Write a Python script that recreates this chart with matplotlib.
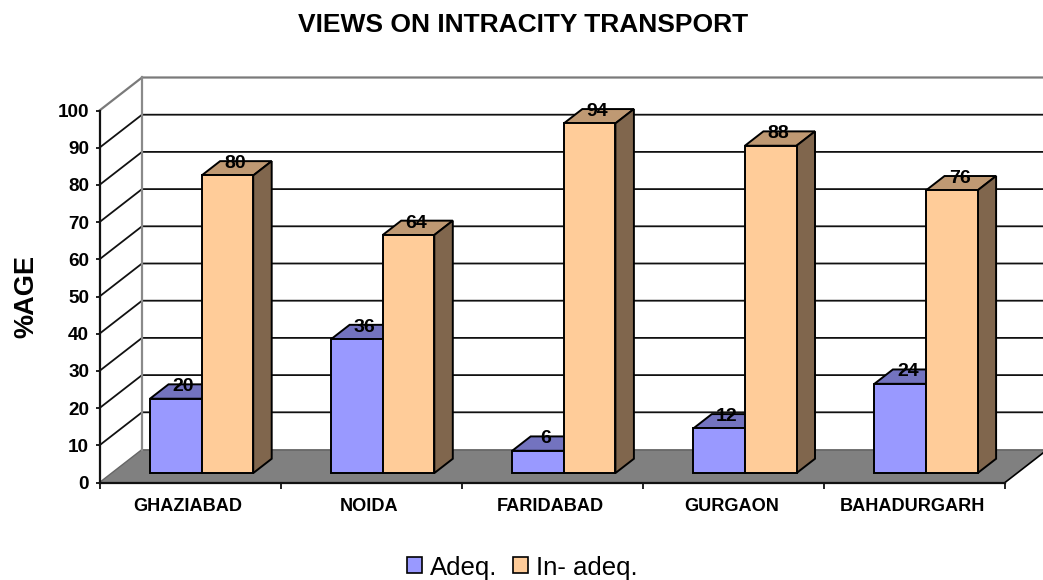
import matplotlib
matplotlib.use("Agg")
import matplotlib.pyplot as plt
from matplotlib.patches import Polygon, Patch

plt.rcParams['font.family'] = ['Liberation Sans', 'DejaVu Sans']

categories = ["GHAZIABAD", "NOIDA", "FARIDABAD", "GURGAON", "BAHADURGARH"]
adeq = [20, 36, 6, 12, 24]
inadeq = [80, 64, 94, 88, 76]
y_ticks = list(range(0, 101, 10))
series_names = ["Adeq.", "In- adeq."]

W, H = 1043, 580
fig = plt.figure(figsize=(W / 100, H / 100), dpi=100, facecolor='white')
L, R, Y0, Y100 = 99.5, 1005.0, 482.5, 110.5
ax = fig.add_axes([L / W, 1 - Y0 / H, (R - L) / W, (Y0 - Y100) / H])
ax.set_xlim(0, 5)
ax.set_ylim(0, 100)
ax.patch.set_visible(False)

PX = (R - L) / 5
PY = (Y0 - Y100) / 100
DX = 42.5 / PX   # full chart depth in category units
DY = 33.0 / PY   # full chart depth in value units

# projection helper: a point at depth d (0 = front, 1 = back)
def pj(x, y, d):
    return (x + DX * d, y + DY * d)

GREY = '#808080'
# floor
ax.add_patch(Polygon([pj(0, 0, 0), pj(5, 0, 0), pj(5, 0, 1), pj(0, 0, 1)],
                     closed=True, facecolor=GREY, edgecolor='none', zorder=1, clip_on=False))
ax.plot(*zip(pj(0, 0, 0), pj(0, 0, 1)), color='#666666', lw=1, zorder=1.2, clip_on=False)
ax.plot(*zip(pj(5, 0, 0), pj(5, 0, 1)), color='black', lw=1.2, zorder=1.2, clip_on=False)
ax.plot(*zip(pj(0, 0, 1), pj(5, 0, 1)), color='#666666', lw=1.2, zorder=1.2, clip_on=False)

# gridlines on back wall and left wall
for v in y_ticks[1:-1]:
    ax.plot(*zip(pj(0, v, 0), pj(0, v, 1), pj(5, v, 1)), color='#111111', lw=1.3,
            zorder=1.5, clip_on=False, solid_joinstyle='miter')
ax.plot(*zip(pj(0, 100, 0), pj(0, 100, 1), pj(5, 100, 1)), color='#7a7a7a', lw=1.6,
        zorder=1.5, clip_on=False, solid_joinstyle='miter')
ax.plot(*zip(pj(0, 0, 1), pj(0, 100, 1)), color='#8a8a8a', lw=1.6, zorder=1.6, clip_on=False)

BW = 51.6 / PX
XOFF = 38.4 / PX
D0, D1 = 0.285, 0.72
EDGE = dict(edgecolor='black', linewidth=1.4, joinstyle='miter')
styles = [('#9999FF', '#7373BF', '#4D4D80'), ('#FFCC99', '#BF9973', '#80664D')]

for k, vals in enumerate([adeq, inadeq]):
    front, top, side = styles[k]
    for i, v in enumerate(vals):
        x0 = i + XOFF + BW * k + DX * D0
        x1 = x0 + BW
        base = DY * D0
        z = 3 + k + i * 0.01
        ax.bar(x0, v, width=BW, bottom=base, align='edge', color=front, zorder=z + 0.002,
               clip_on=False, **EDGE)
        dd = D1 - D0
        tl = (x0, base + v)
        tr = (x1, base + v)
        ax.add_patch(Polygon([tl, tr, (x1 + DX * dd, base + v + DY * dd), (x0 + DX * dd, base + v + DY * dd)],
                             closed=True, facecolor=top, zorder=z, clip_on=False, **EDGE))
        ax.add_patch(Polygon([(x1, base), tr, (x1 + DX * dd, base + v + DY * dd), (x1 + DX * dd, base + DY * dd)],
                             closed=True, facecolor=side, zorder=z, clip_on=False, **EDGE))
        ax.text((x0 + x1) / 2 + DX * dd / 2 - 1.5 / PX, base + v + DY * dd - 2.5 / PY, str(v), ha='center', va='center',
                fontsize=14, fontweight='bold', color='black', zorder=10, clip_on=False)

# axes
for s in ['top', 'right']:
    ax.spines[s].set_visible(False)
for s in ['left', 'bottom']:
    ax.spines[s].set_linewidth(1.6)
    ax.spines[s].set_color('#111111')
    ax.spines[s].set_zorder(2)
ax.set_yticks(y_ticks)
ax.set_yticklabels([str(v) for v in y_ticks], fontsize=13.6, fontweight='bold')
ax.tick_params(axis='y', length=3.2, width=1.3, pad=4.2, color='#111111')
ax.set_xticks(range(6))
ax.set_xticklabels([])
ax.set_xticks([i + 0.49 for i in range(5)], minor=True)
ax.set_xticklabels(categories, minor=True, fontsize=13.1, fontweight='bold')
ax.tick_params(axis='x', which='major', length=4.5, width=1.3, color='#111111')
ax.tick_params(axis='x', which='minor', length=0, pad=11)

ax.set_ylabel("%AGE", fontsize=19.5, fontweight='bold', va='center')
ax.yaxis.set_label_coords((26 - L) / (R - L), 0.5)

fig.text(523 / W, 1 - 24.5 / H, "VIEWS ON INTRACITY TRANSPORT", ha='center', va='center',
         fontsize=19, fontweight='bold')

handles = [Patch(facecolor=styles[i][0], edgecolor='black', linewidth=1.2, label=series_names[i]) for i in range(2)]
fig.legend(handles=handles, ncol=2, loc='center', bbox_to_anchor=(522 / W, 1 - 567.5 / H), frameon=False,
           fontsize=18.5, handlelength=0.58, handleheight=0.58, handletextpad=0.31, columnspacing=0.62,
           borderpad=0, borderaxespad=0)

fig.savefig('out.png', dpi=100, facecolor='white')
